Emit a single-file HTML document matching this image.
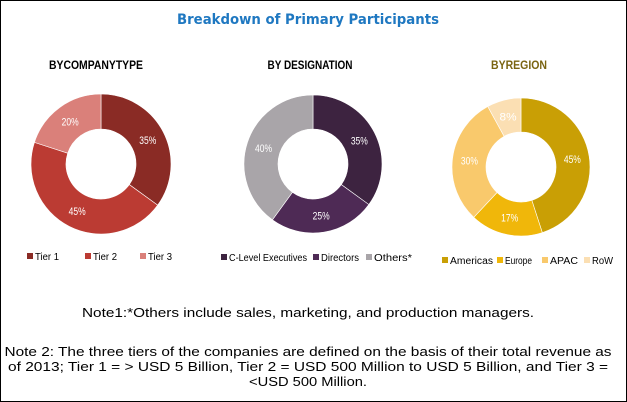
<!DOCTYPE html>
<html><head><meta charset="utf-8"><style>
html,body{margin:0;padding:0;background:#fff}
svg{display:block}
</style></head><body>
<svg id="chart" width="627" height="402" viewBox="0 0 627 402" xmlns="http://www.w3.org/2000/svg" font-family="'Liberation Sans', sans-serif">
<rect x="0.5" y="0.5" width="626" height="401" fill="#fff" stroke="#000" stroke-width="1"/>
<text x="308" y="24" text-anchor="middle" font-size="14" font-weight="bold" fill="#1f78c1" font-family="'DejaVu Sans', sans-serif" textLength="262" lengthAdjust="spacingAndGlyphs">Breakdown of Primary Participants</text>
<g id="donuts"></g>
<text x="308" y="317" text-anchor="middle" font-size="13" fill="#000" textLength="452" lengthAdjust="spacingAndGlyphs">Note1:*Others include sales, marketing, and production managers.</text>
<text x="308" y="356" text-anchor="middle" font-size="13" fill="#000" textLength="607" lengthAdjust="spacingAndGlyphs">Note 2: The three tiers of the companies are defined on the basis of their total revenue as</text>
<text x="308" y="371" text-anchor="middle" font-size="13" fill="#000" textLength="600" lengthAdjust="spacingAndGlyphs">of 2013; Tier 1 = &gt; USD 5 Billion, Tier 2 = USD 500 Million to USD 5 Billion, and Tier 3 =</text>
<text x="308" y="386" text-anchor="middle" font-size="13" fill="#000" textLength="118" lengthAdjust="spacingAndGlyphs">&lt;USD 500 Million.</text>
</svg>
<script>
const companyCategories = ["Tier 1", "Tier 2", "Tier 3"];
const companyValues = [35, 45, 20];
const designationCategories = ["C-Level Executives", "Directors", "Others*"];
const designationValues = [35, 25, 40];
const regionCategories = ["Americas", "Europe", "APAC", "RoW"];
const regionValues = [45, 17, 30, 8];

const NS = "http://www.w3.org/2000/svg";
const root = document.getElementById("donuts");
function mk(tag, attrs, parent){const e=document.createElementNS(NS,tag);for(const k in attrs)e.setAttribute(k,attrs[k]);parent.appendChild(e);return e;}

const charts = [
 {title:"BYCOMPANYTYPE", tcol:"#000", tx:96, tw:94, cx:101, cy:164, r:70, ri:35, cats:companyCategories, vals:companyValues,
  colors:["#8a2b25","#bb3b33","#da807a"], ly:257, lx:[27,85,140], lw:[24,24,24], slug:"company-type"},
 {title:"BY DESIGNATION", tcol:"#000", tx:310, tw:85, cx:313, cy:164, r:69, ri:35, cats:designationCategories, vals:designationValues,
  colors:["#3d2340","#4e2a55","#a9a5a9"], ly:258, lx:[221,313,366], lw:[78,38,38], slug:"designation"},
 {title:"BYREGION", tcol:"#7a6411", tx:519, tw:56, cx:521, cy:167, r:69, ri:35, cats:regionCategories, vals:regionValues,
  colors:["#c99f05","#f0b70a","#f9c96c","#fbdfb3"], ly:261, lx:[442,497,542,584], lw:[43,27,28,21], slug:"region"}
];

charts.forEach(c=>{
  const g = mk("g",{},root);
  
  
  const t = mk("text",{x:c.tx,y:69,"text-anchor":"middle","font-size":"12","font-weight":"bold",fill:c.tcol,textLength:c.tw,lengthAdjust:"spacingAndGlyphs"},g);
  t.textContent = c.title;
  
  
  const total = c.vals.reduce((a,b)=>a+b,0);
  let acc = 0;
  c.vals.forEach((v,i)=>{
    const a0 = acc/total*2*Math.PI, a1=(acc+v)/total*2*Math.PI; acc+=v;
    const p=(a,r)=>[c.cx+r*Math.sin(a), c.cy-r*Math.cos(a)];
    const large = (a1-a0)>Math.PI?1:0;
    const [x0,y0]=p(a0,c.r),[x1,y1]=p(a1,c.r),[x2,y2]=p(a1,c.ri),[x3,y3]=p(a0,c.ri);
    const path = mk("path",{d:`M${x0},${y0}A${c.r},${c.r} 0 ${large} 1 ${x1},${y1}L${x2},${y2}A${c.ri},${c.ri} 0 ${large} 0 ${x3},${y3}Z`,fill:c.colors[i],stroke:"#fff","stroke-width":"0.6"},g);
    
    
    const [lx,ly]=p((a0+a1)/2,(c.r+c.ri)/2);
    const lb = mk("text",{x:lx,y:ly+4,"text-anchor":"middle","font-size":"11",fill:"#fff",textLength:"17",lengthAdjust:"spacingAndGlyphs"},g);
    lb.textContent = v + "%";
    
    
    const le = mk("g",{},g);
    
    
    mk("rect",{x:c.lx[i],y:c.ly-4,width:6,height:6,fill:c.colors[i]},le);
    const lt = mk("text",{x:c.lx[i]+8,y:c.ly+3,"font-size":"10",fill:"#000",textLength:c.lw[i],lengthAdjust:"spacingAndGlyphs"},le);
    lt.textContent = c.cats[i];
  });
});
</script>
</body></html>
